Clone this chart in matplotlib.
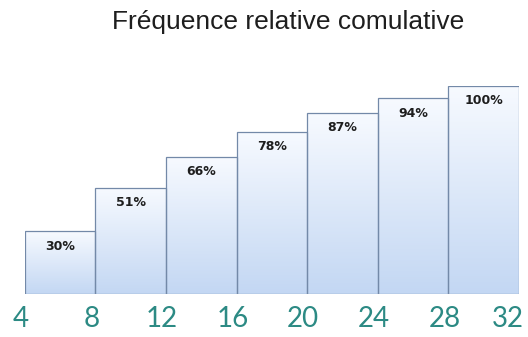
import numpy as np
import matplotlib.pyplot as plt
from matplotlib.colors import LinearSegmentedColormap
from matplotlib.transforms import ScaledTranslation

# classes (bornes) et fréquences relatives cumulées
bornes = [4, 8, 12, 16, 20, 24, 28, 32]
freq_cum = [30, 51, 66, 78, 87, 94, 100]
etiquettes = ['30%', '51%', '66%', '78%', '87%', '94%', '100%']

fig = plt.figure(figsize=(5.28, 3.37), dpi=100)
ax = fig.add_axes([0.047, 0.128, 0.936, 0.617])

# degradé blanc -> bleu clair dans chaque barre
degrade = LinearSegmentedColormap.from_list('deg', ['#c3d7f3', '#f7faff'])
grad = np.linspace(0, 1, 256).reshape(-1, 1)

for i, h in enumerate(freq_cum):
    x0, x1 = bornes[i], bornes[i + 1]
    barre = ax.bar(x0, h, width=x1 - x0, align='edge',
                   facecolor='none', edgecolor='#7389a8', linewidth=0.9, zorder=3)
    im = ax.imshow(grad, cmap=degrade, extent=[x0, x1, 0, h], origin='lower',
                   aspect='auto', zorder=2)
    im.set_clip_path(barre.patches[0])
    ax.text((x0 + x1) / 2, h - 4, etiquettes[i], ha='center', va='top',
            fontsize=9, fontweight='bold', color='#1e1e1e', zorder=4)

ax.set_xlim(bornes[0], bornes[-1])
ax.set_ylim(0, 100)
ax.set_xticks(bornes)
ax.set_xticklabels([str(b) for b in bornes], fontsize=20, color='#2c8a84',
                   family='Lato')
ax.tick_params(axis='x', length=0, pad=9)
ax.set_yticks([])
for s in ax.spines.values():
    s.set_visible(False)

# petit décalage des étiquettes vers la gauche
decal = ScaledTranslation(-4 / 100, 0, fig.dpi_scale_trans)
for lab in ax.get_xticklabels():
    lab.set_transform(lab.get_transform() + decal)
ax.get_xticklabels()[-1].set_horizontalalignment('right')
ax.get_xticklabels()[-1].set_transform(ax.get_xticklabels()[-1].get_transform()
                                       + ScaledTranslation(9 / 100, 0, fig.dpi_scale_trans))

fig.text(0.546, 0.935, 'Fréquence relative comulative', ha='center', va='center',
         fontsize=19, color='#1e1e1e', family='Liberation Sans')

fig.savefig('out.png', dpi=100)
